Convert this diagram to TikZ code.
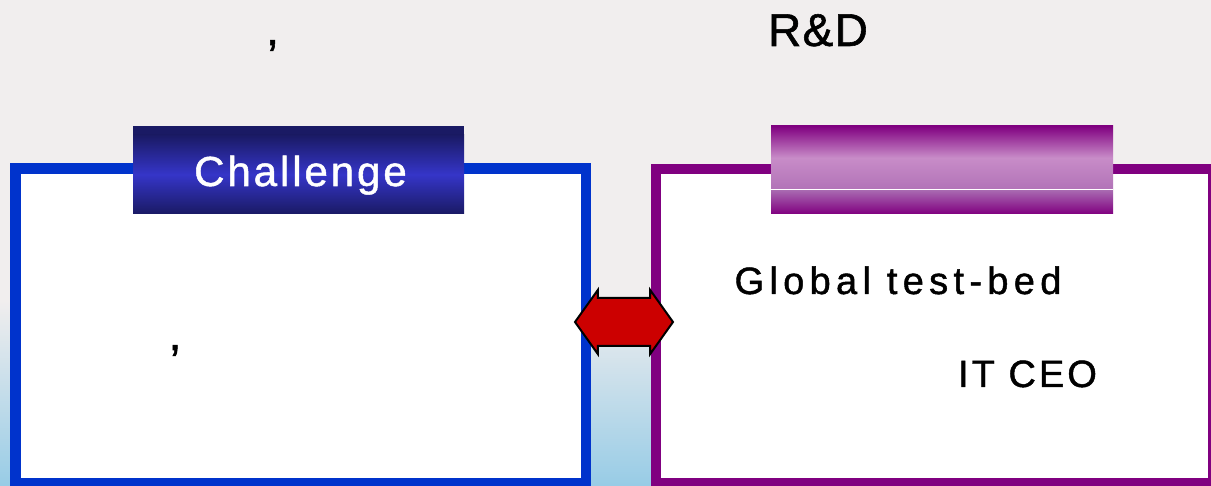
\documentclass[tikz,border=0pt]{standalone}
\usepackage{fontspec}
\setmainfont{Liberation Sans}
\usetikzlibrary{shapes.arrows}
\newcommand{\trackby}[1]{\addfontfeatures{LetterSpace=#1,FakeBold=1.2}}

\begin{document}
\begin{tikzpicture}[x=1pt,y=1pt,
  txt/.style={anchor=base,inner sep=0pt,outer sep=0pt},
  panel/.style={draw=#1,line width=10.5,fill=white,inner sep=0pt,outer sep=0pt},
  bigfont/.style={font=\fontsize{46}{50}\selectfont},
  bodyfont/.style={font=\fontsize{38}{42}\selectfont}]
\definecolor{bgColor}{RGB}{241,238,238}
\definecolor{skyColor}{RGB}{152,204,230}
\definecolor{blueLine}{RGB}{0,51,204}
\definecolor{purpleLine}{RGB}{128,0,128}
\definecolor{navyDark}{RGB}{26,26,100}
\definecolor{navyLight}{RGB}{53,53,200}
\definecolor{lilacLight}{RGB}{200,140,200}
\definecolor{lilacMid}{RGB}{168,104,176}
\definecolor{arrowRed}{RGB}{204,0,0}
\path[use as bounding box,fill=bgColor] (0,0) rectangle (1211,485);
\begin{scope}
\path[clip] (0,0) rectangle (1211,485);

\path[top color=bgColor,bottom color=skyColor] (0,0) rectangle (1211,185);

\node[panel=blueLine,minimum width=570.5,minimum height=315] (leftbox) at (300.75,159) {};
\node[panel=purpleLine,minimum width=557,minimum height=314.5] (rightbox) at (934.5,158.75) {};

\path[fill=navyDark] (133,359) rectangle (464,351);
\path[draw=white,line width=1] (133,350.5) -- (464,350.5);
\path[top color=navyDark,bottom color=navyDark,middle color=navyLight] (133,350) rectangle (464,271);

\path[top color=purpleLine,bottom color=lilacMid!70!lilacLight,middle color=lilacLight] (771,359) rectangle (1113,295.5);
\path[draw=white,line width=1] (771,295) -- (1113,295);
\path[top color=lilacMid,bottom color=purpleLine] (771,294.5) rectangle (1113,271);

\node[shape=double arrow,fill=arrowRed,draw=black,line width=2,
  minimum height=98,double arrow head extend=8,
  double arrow tip angle=109,inner xsep=0pt,inner ysep=23pt] (link) at (624,163) {};

\node[txt,bigfont] (titlecomma) at (272.5,440) {\trackby{0},};
\node[txt,bigfont] (titlerd) at (818,439) {\trackby{3}R\&D};
\node[txt,text=white,font=\fontsize{42}{46}\selectfont] (challenge) at (300.5,299) {\trackby{7}Challenge};
\node[txt,bodyfont] (testbed) at (898,191) {\trackby{14}Global test-bed};
\node[txt,bodyfont] (itceo) at (1027.5,98) {\trackby{8}IT CEO};
\node[txt,bigfont] (leftcomma) at (175,135) {\trackby{0},};
\end{scope}
\end{tikzpicture}
\end{document}
